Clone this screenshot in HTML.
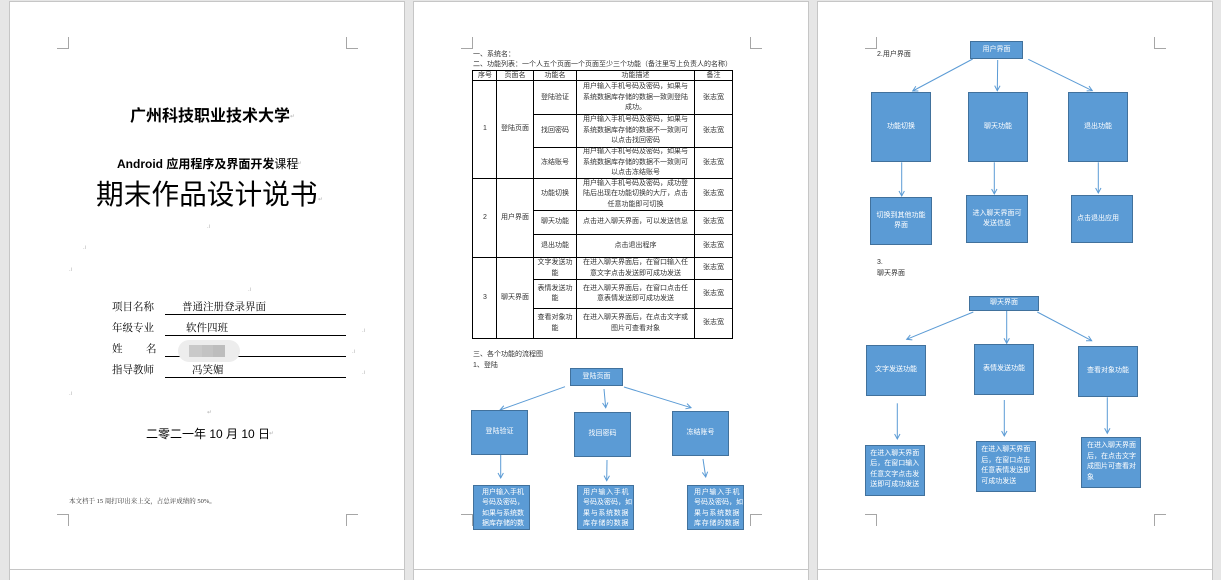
<!DOCTYPE html>
<html><head><meta charset="utf-8">
<style>
*{margin:0;padding:0;box-sizing:border-box}
body{width:1221px;height:574px;background:#e6e6e6;position:relative;overflow:hidden;font-family:"Liberation Sans","Noto Sans CJK SC",sans-serif;color:#000}
.pg{position:absolute;top:1px;width:396px;height:569px;border:1px solid #c6c6c6;background:#fff}
.pg2{position:absolute;top:570px;width:396px;height:10px;border-left:1px solid #c6c6c6;border-right:1px solid #c6c6c6;background:#fff}
.t{position:absolute;white-space:nowrap;line-height:1}
.s{font-size:7px;color:#333}
.sf{font-family:"Liberation Serif","Noto Serif CJK SC",serif}
.c{position:absolute;display:flex;align-items:center;justify-content:center;text-align:center;font-size:7px;line-height:10.5px;color:#333;white-space:nowrap}
.b{position:absolute;background:#5b9bd5;border:1px solid #41719c;color:#fff;font-size:7px;line-height:10.5px;display:flex;align-items:center;justify-content:center;text-align:center;white-space:nowrap;overflow:hidden}
.bt{position:absolute;background:#5b9bd5;border:1px solid #41719c;color:#fff;font-size:7px;line-height:10.5px;white-space:nowrap;overflow:hidden}
.j{display:block;text-align:justify;text-align-last:justify}
.m{position:absolute;font-size:6px;color:#b4b4b4;line-height:1}
svg{position:absolute;left:0;top:0}
</style></head><body>

<div class="pg" style="left:9px"></div>
<div class="pg" style="left:413px"></div>
<div class="pg" style="left:817px"></div>
<div class="pg2" style="left:9px"></div>
<div class="pg2" style="left:413px"></div>
<div class="pg2" style="left:817px"></div>

<svg width="1221" height="574" viewBox="0 0 1221 574">
<defs>
<marker id="a" markerWidth="8" markerHeight="8" refX="6" refY="3.5" orient="auto" markerUnits="userSpaceOnUse"><path d="M1,0.8 L6,3.5 L1,6.2" fill="none" stroke="#5b9bd5" stroke-width="1"/></marker>
</defs>
<g fill="none" stroke="#a6a6a6" stroke-width="1">
<path d="M57,48.5 H68.5 V37"/><path d="M346.5,37 V48.5 H358"/><path d="M57,514.5 H68.5 V526"/><path d="M346.5,526 V514.5 H358"/>
<path d="M461,48.5 H472.5 V37"/><path d="M750.5,37 V48.5 H762"/><path d="M461,514.5 H472.5 V526"/><path d="M750.5,526 V514.5 H762"/>
<path d="M865,48.5 H876.5 V37"/><path d="M1154.5,37 V48.5 H1166"/><path d="M865,514.5 H876.5 V526"/><path d="M1154.5,526 V514.5 H1166"/>
</g>
<g stroke="#000" stroke-width="1">
<line x1="165" y1="314.5" x2="346" y2="314.5"/>
<line x1="165" y1="335.5" x2="346" y2="335.5"/>
<line x1="165" y1="356.5" x2="346" y2="356.5"/>
<line x1="165" y1="377.5" x2="346" y2="377.5"/>
</g>
<g stroke="#000" stroke-width="1">
<line x1="472.5" y1="70" x2="472.5" y2="339"/>
<line x1="496.5" y1="70" x2="496.5" y2="339"/>
<line x1="533.5" y1="70" x2="533.5" y2="339"/>
<line x1="576.5" y1="70" x2="576.5" y2="339"/>
<line x1="694.5" y1="70" x2="694.5" y2="339"/>
<line x1="732.5" y1="70" x2="732.5" y2="339"/>
<line x1="472" y1="70.5" x2="733" y2="70.5"/>
<line x1="472" y1="80.5" x2="733" y2="80.5"/>
<line x1="533" y1="114.5" x2="733" y2="114.5"/>
<line x1="533" y1="147.5" x2="733" y2="147.5"/>
<line x1="472" y1="178.5" x2="733" y2="178.5"/>
<line x1="533" y1="210.5" x2="733" y2="210.5"/>
<line x1="533" y1="234.5" x2="733" y2="234.5"/>
<line x1="472" y1="257.5" x2="733" y2="257.5"/>
<line x1="533" y1="279.5" x2="733" y2="279.5"/>
<line x1="533" y1="308.5" x2="733" y2="308.5"/>
<line x1="472" y1="338.5" x2="733" y2="338.5"/>
</g>
<g stroke="#5b9bd5" stroke-width="1" marker-end="url(#a)">
<line x1="565" y1="386.7" x2="500" y2="410"/>
<line x1="604" y1="389" x2="605.7" y2="407.7"/>
<line x1="624" y1="387" x2="691" y2="407.7"/>
<line x1="500.7" y1="455" x2="500.7" y2="478"/>
<line x1="607" y1="460" x2="606.7" y2="480.7"/>
<line x1="703" y1="459" x2="705.7" y2="477"/>

<line x1="972.7" y1="59" x2="912.7" y2="91"/>
<line x1="997.7" y1="60" x2="997.3" y2="90.7"/>
<line x1="1028.3" y1="59.3" x2="1092.3" y2="90.7"/>
<line x1="901.7" y1="162.3" x2="901.7" y2="196"/>
<line x1="994.3" y1="162.3" x2="994.3" y2="194"/>
<line x1="1098.3" y1="162.3" x2="1098.3" y2="193"/>

<line x1="973.3" y1="312" x2="906.7" y2="339.3"/>
<line x1="1006.7" y1="310.7" x2="1006.7" y2="343.3"/>
<line x1="1037.3" y1="312" x2="1091.7" y2="340.7"/>
<line x1="897.3" y1="403.3" x2="897.3" y2="439"/>
<line x1="1004.3" y1="400" x2="1004.3" y2="436"/>
<line x1="1107.3" y1="397.3" x2="1107.3" y2="433.3"/>
</g>
</svg>

<!-- PAGE 1 -->
<div class="t" style="left:130px;top:108.5px;font-size:16px;font-weight:bold">广州科技职业技术大学</div>
<div class="m" style="left:290px;top:114px">↵</div>
<div class="t" style="left:117px;top:158px;font-size:12px;font-weight:bold">Android 应用程序及界面开发<span style="font-weight:normal">课程</span></div>
<div class="m" style="left:297px;top:161px">↵</div>
<div class="t" style="left:96px;top:181px;font-size:27.7px">期末作品设计说书</div>
<div class="m" style="left:318px;top:197px">↵</div>
<div class="m" style="left:207px;top:224px">.ı</div>
<div class="m" style="left:83px;top:245px">.ı</div>
<div class="m" style="left:69px;top:267px">.ı</div>
<div class="m" style="left:248px;top:287px">.ı</div>

<div class="t sf" style="left:112px;top:303px;font-size:10.5px">项目名称</div>
<div class="t sf" style="left:182px;top:303px;font-size:10.5px">普通注册登录界面</div>
<div class="t sf" style="left:112px;top:324px;font-size:10.5px">年级专业</div>
<div class="t sf" style="left:186px;top:324px;font-size:10.5px">软件四班</div>
<div class="m" style="left:362px;top:328px">.ı</div>
<div class="t sf" style="left:112px;top:345px;font-size:10.5px">姓</div>
<div class="t sf" style="left:146px;top:345px;font-size:10.5px">名</div>
<div style="position:absolute;left:178px;top:340px;width:62px;height:22px;background:#ededed;border-radius:11px"></div>
<div style="position:absolute;left:189px;top:345px;width:13px;height:12px;background:#c9c9c9"></div>
<div style="position:absolute;left:202px;top:345px;width:11px;height:12px;background:#c3c3c3"></div>
<div style="position:absolute;left:213px;top:345px;width:12px;height:12px;background:#bdbdbd"></div>
<div class="m" style="left:352px;top:349px">.ı</div>
<div class="t sf" style="left:112px;top:366px;font-size:10.5px">指导教师</div>
<div class="t sf" style="left:192px;top:366px;font-size:10.5px">冯笑媚</div>
<div class="m" style="left:362px;top:370px">.ı</div>
<div class="m" style="left:69px;top:391px">.ı</div>
<div class="m" style="left:207px;top:410px">↵</div>
<div class="t" style="left:146px;top:428px;font-size:12px">二零二一年 10 月 10 日</div>
<div class="m" style="left:269px;top:431px">↵</div>
<div class="t sf" style="left:69px;top:498.5px;font-size:6.5px;color:#333">本文档于 15 周打印出来上交，占总评成绩的 50%。</div>

<!-- PAGE 2 -->
<div class="t s" style="left:473px;top:50.5px">一、系统名：</div>
<div class="t s" style="left:473px;top:60.5px">二、功能列表：一个人五个页面一个页面至少三个功能（备注里写上负责人的名称）</div>

<div class="c" style="left:473px;top:71px;width:24px;height:9.5px">序号</div>
<div class="c" style="left:497px;top:71px;width:36px;height:9.5px">页面名</div>
<div class="c" style="left:534px;top:71px;width:42px;height:9.5px">功能名</div>
<div class="c" style="left:577px;top:71px;width:117px;height:9.5px">功能描述</div>
<div class="c" style="left:695px;top:71px;width:37px;height:9.5px">备注</div>

<div class="c" style="left:473px;top:81px;width:24px;height:97px">1</div>
<div class="c" style="left:497px;top:81px;width:36px;height:97px">登陆页面</div>
<div class="c" style="left:473px;top:179px;width:24px;height:78px">2</div>
<div class="c" style="left:497px;top:179px;width:36px;height:78px">用户界面</div>
<div class="c" style="left:473px;top:258px;width:24px;height:80px">3</div>
<div class="c" style="left:497px;top:258px;width:36px;height:80px">聊天界面</div>

<div class="c" style="left:534px;top:81px;width:42px;height:33.5px">登陆验证</div>
<div class="c" style="left:577px;top:81px;width:117px;height:33.5px">用户输入手机号码及密码，如果与<br>系统数据库存储的数据一致则登陆<br>成功。</div>
<div class="c" style="left:695px;top:81px;width:37px;height:33.5px">张志宽</div>

<div class="c" style="left:534px;top:115px;width:42px;height:32px">找回密码</div>
<div class="c" style="left:577px;top:115px;width:117px;height:32px">用户输入手机号码及密码，如果与<br>系统数据库存储的数据不一致则可<br>以点击找回密码</div>
<div class="c" style="left:695px;top:115px;width:37px;height:32px">张志宽</div>

<div class="c" style="left:534px;top:148px;width:42px;height:30px">冻结账号</div>
<div class="c" style="left:577px;top:148px;width:117px;height:30px">用户输入手机号码及密码，如果与<br>系统数据库存储的数据不一致则可<br>以点击冻结账号</div>
<div class="c" style="left:695px;top:148px;width:37px;height:30px">张志宽</div>

<div class="c" style="left:534px;top:179px;width:42px;height:31px">功能切换</div>
<div class="c" style="left:577px;top:179px;width:117px;height:31px">用户输入手机号码及密码，成功登<br>陆后出现在功能切换的大厅，点击<br>任意功能即可切换</div>
<div class="c" style="left:695px;top:179px;width:37px;height:31px">张志宽</div>

<div class="c" style="left:534px;top:211px;width:42px;height:23px">聊天功能</div>
<div class="c" style="left:577px;top:211px;width:117px;height:23px">点击进入聊天界面，可以发送信息</div>
<div class="c" style="left:695px;top:211px;width:37px;height:23px">张志宽</div>

<div class="c" style="left:534px;top:235px;width:42px;height:22px">退出功能</div>
<div class="c" style="left:577px;top:235px;width:117px;height:22px">点击退出程序</div>
<div class="c" style="left:695px;top:235px;width:37px;height:22px">张志宽</div>

<div class="c" style="left:534px;top:258px;width:42px;height:21px">文字发送功<br>能</div>
<div class="c" style="left:577px;top:258px;width:117px;height:21px">在进入聊天界面后，在窗口输入任<br>意文字点击发送即可成功发送</div>
<div class="c" style="left:695px;top:258px;width:37px;height:21px">张志宽</div>

<div class="c" style="left:534px;top:280px;width:42px;height:28px">表情发送功<br>能</div>
<div class="c" style="left:577px;top:280px;width:117px;height:28px">在进入聊天界面后，在窗口点击任<br>意表情发送即可成功发送</div>
<div class="c" style="left:695px;top:280px;width:37px;height:28px">张志宽</div>

<div class="c" style="left:534px;top:309px;width:42px;height:29px">查看对象功<br>能</div>
<div class="c" style="left:577px;top:309px;width:117px;height:29px">在进入聊天界面后，在点击文字或<br>图片可查看对象</div>
<div class="c" style="left:695px;top:309px;width:37px;height:29px">张志宽</div>

<div class="t s" style="left:473px;top:351px">三、各个功能的流程图</div>
<div class="t s" style="left:473px;top:362px">1、登陆</div>

<div class="b" style="left:570px;top:368px;width:53px;height:18px">登陆页面</div>
<div class="b" style="left:471px;top:410px;width:57px;height:45px">登陆验证</div>
<div class="b" style="left:574px;top:412px;width:57px;height:45px">找回密码</div>
<div class="b" style="left:672px;top:411px;width:57px;height:45px">冻结账号</div>
<div class="bt" style="left:473px;top:485px;width:57px;height:45px;padding:1.5px 0 0 8px">用户输入手机<br>号码及密码，<br>如果与系统数<br>据库存储的数</div>
<div class="bt" style="left:577px;top:485px;width:57px;height:45px;padding:1.5px 0 0 5px"><div style="width:45.5px"><span class="j">用户输入手机</span><span class="j">号码及密码，如</span><span class="j">果与系统数据</span><span class="j">库存储的数据</span></div></div>
<div class="bt" style="left:687px;top:485px;width:57px;height:45px;padding:1.5px 0 0 6px"><div style="width:45.5px"><span class="j">用户输入手机</span><span class="j">号码及密码，如</span><span class="j">果与系统数据</span><span class="j">库存储的数据</span></div></div>

<!-- PAGE 3 -->
<div class="t s" style="left:877px;top:50.5px">2.用户界面</div>
<div class="b" style="left:970px;top:41px;width:53px;height:18px">用户界面</div>
<div class="b" style="left:871px;top:92px;width:60px;height:70px">功能切换</div>
<div class="b" style="left:968px;top:92px;width:60px;height:70px">聊天功能</div>
<div class="b" style="left:1068px;top:92px;width:60px;height:70px">退出功能</div>
<div class="b" style="left:870px;top:197px;width:62px;height:48px">切换到其他功能<br>界面</div>
<div class="b" style="left:966px;top:195px;width:62px;height:48px">进入聊天界面可<br>发送信息</div>
<div class="b" style="left:1071px;top:195px;width:62px;height:48px;justify-content:flex-start;padding-left:5px">点击退出应用</div>

<div class="t s" style="left:877px;top:258.5px">3.</div>
<div class="t s" style="left:877px;top:269.5px">聊天界面</div>

<div class="b" style="left:969px;top:296px;width:70px;height:15px">聊天界面</div>
<div class="b" style="left:866px;top:345px;width:60px;height:51px">文字发送功能</div>
<div class="b" style="left:974px;top:344px;width:60px;height:51px">表情发送功能</div>
<div class="b" style="left:1078px;top:346px;width:60px;height:51px">查看对象功能</div>
<div class="bt" style="left:865px;top:445px;width:60px;height:51px;padding:2.8px 0 0 4.3px">在进入聊天界面<br>后，在窗口输入<br>任意文字点击发<br>送即可成功发送</div>
<div class="bt" style="left:976px;top:441px;width:60px;height:51px;padding:3.4px 0 0 4.3px">在进入聊天界面<br>后，在窗口点击<br>任意表情发送即<br>可成功发送</div>
<div class="bt" style="left:1081px;top:437px;width:60px;height:51px;padding:3.4px 0 0 5px">在进入聊天界面<br>后，在点击文字<br>成图片可查看对<br>象</div>

</body></html>
